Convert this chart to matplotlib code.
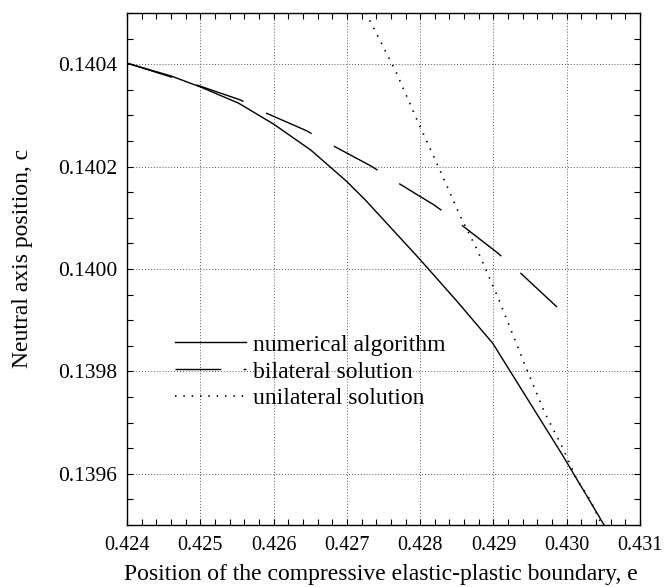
import matplotlib
matplotlib.use("Agg")
import matplotlib.pyplot as plt
from matplotlib.lines import Line2D
from matplotlib.ticker import MultipleLocator, FormatStrFormatter

plt.rcParams['font.family'] = ['Liberation Serif', 'DejaVu Serif']

# numerical algorithm
num_e = [0.42400, 0.42460, 0.42501, 0.42552, 0.42600, 0.42651, 0.42699,
         0.42725, 0.42797, 0.42849, 0.42899, 0.42994, 0.43051]
num_c = [0.140402, 0.140377, 0.140355, 0.140324, 0.140283, 0.140232, 0.140172,
         0.140135, 0.140023, 0.139939, 0.139855, 0.139637, 0.139500]

# bilateral solution
bi_e = [0.42400, 0.42500, 0.42555, 0.42589, 0.42645, 0.42677, 0.42733,
        0.42763, 0.42819, 0.42851, 0.42906, 0.42937, 0.42994]
bi_c = [0.140402, 0.140357, 0.140330, 0.140305, 0.140270, 0.140244, 0.140201,
        0.140174, 0.140125, 0.140092, 0.140031, 0.139992, 0.139916]

# unilateral solution
uni_e = [0.42726, 0.42745, 0.42767, 0.42797, 0.42827, 0.42855, 0.42878,
         0.42906, 0.42944, 0.42970, 0.42994, 0.43014, 0.43032, 0.43048]
uni_c = [0.14050, 0.140447, 0.140385, 0.140287, 0.140193, 0.140102, 0.140037,
         0.139945, 0.139809, 0.139719, 0.139652, 0.139588, 0.139549, 0.13950]

labels = ['numerical algorithm', 'bilateral solution', 'unilateral solution']

fig = plt.figure(figsize=(6.64, 5.87), dpi=100)
ax = fig.add_axes([0.1913, 0.1056, 0.7726, 0.8723])

ax.plot(num_e, num_c, color='black', lw=1.0)
ax.plot(bi_e, bi_c, color='black', lw=1.0, linestyle=(2, (36, 18.3)))
ax.plot(uni_e, uni_c, color='black', lw=1.2, linestyle=(0, (0.9, 4.1)))

ax.set_xlim(0.424, 0.431)
ax.set_ylim(0.1395, 0.1405)
ax.xaxis.set_major_locator(MultipleLocator(0.001))
ax.xaxis.set_minor_locator(MultipleLocator(0.0002))
ax.yaxis.set_major_locator(MultipleLocator(0.0002))
ax.yaxis.set_minor_locator(MultipleLocator(0.00005))
ax.xaxis.set_major_formatter(FormatStrFormatter('%.3f'))
ax.yaxis.set_major_formatter(FormatStrFormatter('%.4f'))
ax.tick_params(which='both', direction='in', top=True, right=True, length=4, width=0.8)
ax.tick_params(axis='x', labelsize=14.5, pad=8)
ax.tick_params(axis='y', labelsize=15.5, pad=7)
ax.grid(True, which='major', color='0.35', lw=0.7, linestyle=(0, (1, 2)))
for s in ax.spines.values():
    s.set_linewidth(1.0)

ax.set_xlabel('Position of the compressive elastic-plastic boundary, e', fontsize=17)
ax.set_ylabel('Neutral axis position, c', fontsize=17)
ax.xaxis.set_label_coords(0.495, -0.077)
ax.yaxis.set_label_coords(-0.183, 0.52)

handles = [Line2D([], [], color='black', lw=1.0),
           Line2D([], [], color='black', lw=1.0, linestyle=(0, (33, 16))),
           Line2D([], [], color='black', lw=1.2, linestyle=(0, (0.9, 4.1)))]
ax.legend(handles, labels, loc='upper left', bbox_to_anchor=(0.094, 0.373),
          frameon=False, fontsize=17, handlelength=3.0, handletextpad=0.3,
          labelspacing=0.23, borderaxespad=0, borderpad=0)

fig.savefig('out.png', dpi=100)
